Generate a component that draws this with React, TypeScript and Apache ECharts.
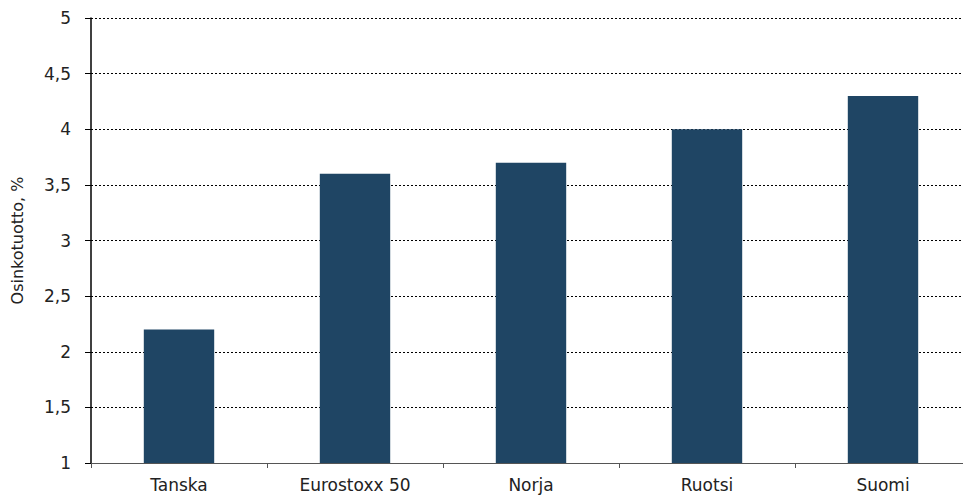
import React, { useEffect, useRef } from "react";
import * as echarts from "echarts";

const categories = ["Tanska", "Eurostoxx 50", "Norja", "Ruotsi", "Suomi"];
const values = [2.2, 3.6, 3.7, 4.0, 4.3];
const yAxisName = "Osinkotuotto, %";

const FONT = "DejaVu Sans";

export default function App() {
  const ref = useRef<HTMLDivElement>(null);
  useEffect(() => {
    if (!ref.current) return;
    const chart = echarts.init(ref.current, undefined, { renderer: "svg" });
    chart.setOption({
      animation: false,
      grid: { left: 91, top: 18, bottom: 34, right: 19, containLabel: false, outerBoundsMode: "none" },
      xAxis: {
        type: "category",
        data: categories,
        axisLine: { lineStyle: { color: "#555", width: 1.2 } },
        axisTick: { show: true, alignWithLabel: false, length: 5, lineStyle: { color: "#555" } },
        axisLabel: { color: "#222", fontSize: 17, fontFamily: FONT, margin: 13 },
      },
      yAxis: {
        type: "value",
        min: 1,
        max: 5,
        interval: 0.5,
        name: yAxisName,
        nameLocation: "middle",
        nameGap: 66,
        nameTextStyle: { color: "#222", fontSize: 16, fontFamily: FONT },
        axisLine: { show: true, lineStyle: { color: "#000", width: 1.5 } },
        axisTick: { show: true, length: 6, lineStyle: { color: "#000" } },
        axisLabel: {
          color: "#222",
          fontSize: 17,
          fontFamily: FONT,
          margin: 20,
          formatter: (v: number) => String(v).replace(".", ","),
        },
        splitLine: { show: true, lineStyle: { color: "#000", type: [2, 2], width: 1 } },
      },
      series: [
        {
          type: "bar",
          data: values,
          barWidth: "40%",
          itemStyle: { color: "#1f4564" },
        },
      ],
    });
    return () => chart.dispose();
  }, []);
  return (
    <div
      style={{ position: "fixed", left: 0, top: 0, width: 963, height: 497, overflow: "hidden", background: "#fff" }}
    >
      <div ref={ref} style={{ width: 990, height: 497 }} />
    </div>
  );
}
